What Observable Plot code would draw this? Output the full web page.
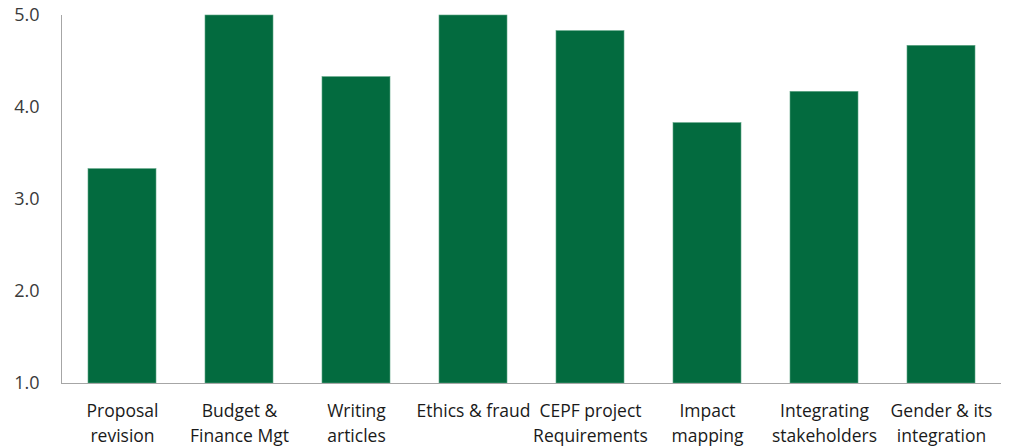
<!DOCTYPE html>
<html><head><meta charset="utf-8">
<script src="https://cdn.jsdelivr.net/npm/d3@7"></script>
<script src="https://cdn.jsdelivr.net/npm/@observablehq/plot@0.6"></script>
<style>body{margin:0;background:#fff;} svg{display:block;}</style>
</head><body><div id="chart"></div>
<script>
const categories = ["Proposal\nrevision","Budget &\nFinance Mgt","Writing\narticles","Ethics & fraud","CEPF project\nRequirements","Impact\nmapping","Integrating\nstakeholders","Gender & its\nintegration"];
const scores = [3.33, 5.0, 4.33, 5.0, 4.83, 3.83, 4.17, 4.67];
const yTicks = [1, 2, 3, 4, 5];

const data = categories.map((c, i) => ({category: c, score: scores[i]}));

const leftLine = (index, scales, values, dims) => {
  const g = d3.create("svg:line")
    .attr("x1", dims.marginLeft + 0.5).attr("x2", dims.marginLeft + 0.5)
    .attr("y1", dims.marginTop).attr("y2", dims.height - dims.marginBottom)
    .attr("stroke", "#a6a6a6").attr("stroke-width", 1);
  return g.node();
};

const chart = Plot.plot({
  width: 1011,
  height: 447,
  marginLeft: 61,
  marginRight: 10,
  marginTop: 15,
  marginBottom: 64,
  style: {fontFamily: "'Open Sans', 'Noto Sans', sans-serif", fontSize: "17px", color: "#3a3a3a", background: "#fff"},
  x: {domain: categories, paddingInner: 0.42, paddingOuter: 0.21, align: 0.5},
  y: {domain: [1, 5]},
  marks: [
    Plot.barY(data, {x: "category", y1: 1, y2: "score", fill: "#036b3f", stroke: "#5aa383", strokeWidth: 0.6}),
    Plot.ruleY([1], {stroke: "#a6a6a6"}),
    leftLine,
    Plot.axisY({ticks: yTicks, tickSize: 0, tickPadding: 22, tickFormat: d3.format(".1f"), label: null, fontSize: 18, fill: "#3a3a3a"}),
    Plot.axisX({tickSize: 0, tickPadding: 15, label: null, fontSize: 17.5, lineHeight: 1.45, fill: "#1a1a1a", textAnchor: "middle"})
  ]
});
document.getElementById("chart").appendChild(chart);
</script>
</body></html>
